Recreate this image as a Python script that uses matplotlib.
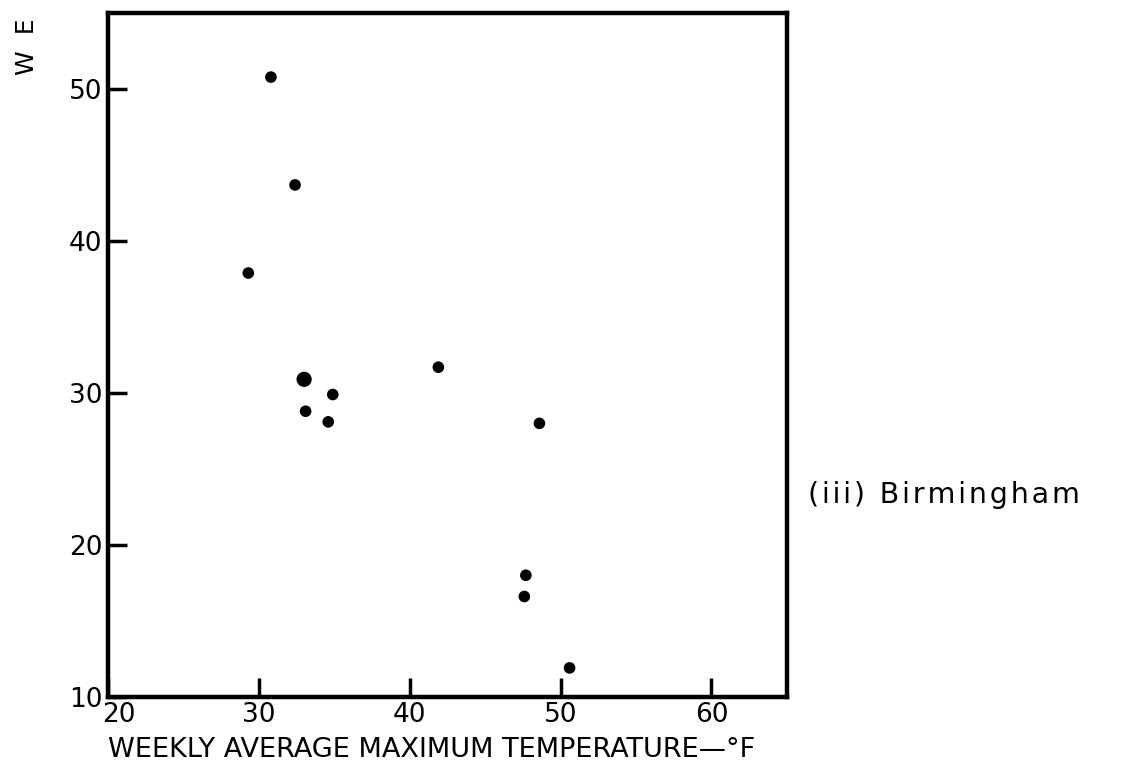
import matplotlib.pyplot as plt
import matplotlib.transforms as mtransforms
import numpy as np

# weekly average max temperature (F) vs W E, Birmingham
temp = [30.8, 32.4, 29.3, 33.0, 34.9, 33.1, 34.6, 41.9, 48.6, 47.7, 47.6, 50.6]
we = [50.8, 43.7, 37.9, 30.9, 29.9, 28.8, 28.1, 31.7, 28.0, 18.0, 16.6, 11.9]
count = [1, 1, 1, 2, 1, 1, 1, 1, 1, 1, 1, 1]

xticks = [20, 30, 40, 50, 60]
yticks = [10, 20, 30, 40, 50]

plt.rcParams['font.family'] = 'DejaVu Sans'

fig = plt.figure(figsize=(11.37, 7.82), dpi=100)
ax = fig.add_axes([0.095, 0.109, 0.597, 0.874])

sizes = [70 if c == 1 else 120 for c in count]
ax.scatter(temp, we, s=sizes, color='black', zorder=3, linewidths=0)

ax.set_xlim(20, 65)
ax.set_ylim(10, 55)
ax.set_xticks(xticks)
ax.set_yticks(yticks)
ax.tick_params(direction='in', length=14, width=2.5, labelsize=19, pad=4)
for s in ax.spines.values():
    s.set_linewidth(3.2)

# first x label sits a little to the right of its tick, clear of the "10"
off = mtransforms.ScaledTranslation(11 / 100, 0, fig.dpi_scale_trans)
lab0 = ax.get_xticklabels()[0]
lab0.set_transform(lab0.get_transform() + off)

ax.set_xlabel('WEEKLY AVERAGE MAXIMUM TEMPERATURE\u2014\u00b0F', fontsize=19.5, loc='left', labelpad=6)

fig.text(0.024, 0.94, 'W  E', rotation=90, fontsize=18, ha='center', va='center')
spaced = '\u200a'.join('(iii) Birmingham')
fig.text(0.711, 0.367, spaced, fontsize=20.5, ha='left', va='center')

fig.savefig('out.png', dpi=100)
